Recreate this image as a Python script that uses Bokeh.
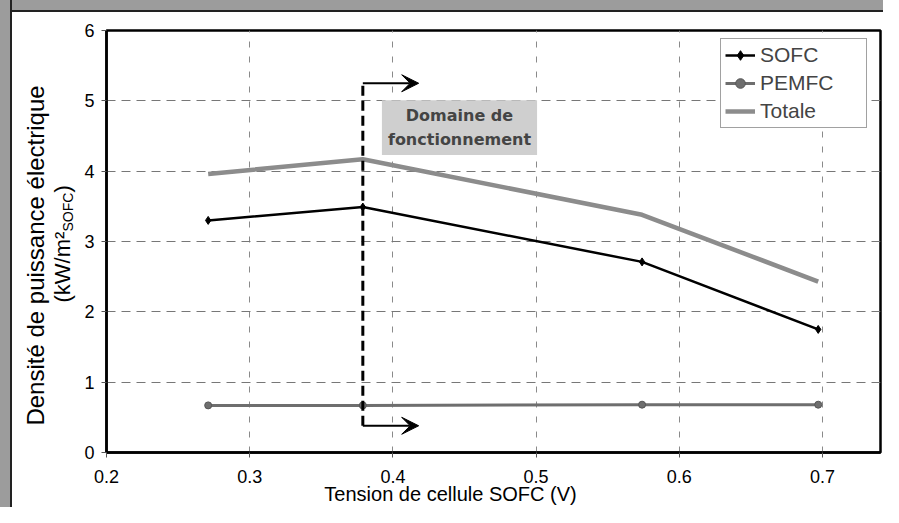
from math import pi
from bokeh.plotting import figure
from bokeh.models import (Range1d, FixedTicker, Label, Arrow, VeeHead,
                          Legend, LegendItem, InlineStyleSheet)
from bokeh.embed import file_html
from bokeh.resources import INLINE

# ---- data ----
voltage = [0.271, 0.379, 0.574, 0.697]
sofc = [3.30, 3.49, 2.71, 1.75]
pemfc = [0.67, 0.67, 0.68, 0.68]
totale = [3.96, 4.17, 3.38, 2.43]

x_ticks = [0.2, 0.3, 0.4, 0.5, 0.6, 0.7]
y_ticks = [0, 1, 2, 3, 4, 5, 6]

# operating-domain marker (annotation)
domain_x = 0.379
domain_y_low = 0.38
domain_y_high = 5.25
arrow_x_end = 0.418
domain_label_x = 0.4465
domain_label_y = 4.62

FONT = "Liberation Sans"

p = figure(width=883, height=507, output_backend="svg", toolbar_location=None,
           x_range=Range1d(0.2, 0.7405), y_range=Range1d(0, 6),
           min_border_left=106, min_border_top=30, min_border_bottom=54,
           min_border_right=3)
p.border_fill_color = "white"
p.background_fill_color = "white"
p.outline_line_color = "black"
p.outline_line_width = 2.5

# scanned-page border (left and top)
p.stylesheets = [InlineStyleSheet(css="""
:host::before { content: ""; position: absolute; left: 0; top: 0; width: 100%;
  height: 10px; background: #9c9c9c; border-bottom: 2px solid #222;
  z-index: 50; pointer-events: none; }
:host::after { content: ""; position: absolute; left: 0; top: 0; width: 10px;
  height: 100%; background: #9c9c9c; border-right: 2px solid #222;
  z-index: 51; pointer-events: none; }
""")]

# grid
p.xgrid.ticker = FixedTicker(ticks=x_ticks)
p.ygrid.ticker = FixedTicker(ticks=y_ticks)
p.xgrid.grid_line_color = "#8a8a8a"
p.xgrid.grid_line_dash = "6 9"
p.xgrid.grid_line_width = 1
p.ygrid.grid_line_color = "#777777"
p.ygrid.grid_line_dash = "9 6"
p.ygrid.grid_line_width = 1

# axes
for ax in (p.xaxis[0], p.yaxis[0]):
    ax.axis_line_width = 2.5
    ax.axis_line_color = "black"
    ax.major_tick_out = 5
    ax.major_tick_in = 0
    ax.minor_tick_line_color = None
    ax.major_label_text_font = FONT
    ax.major_label_text_font_size = "18px"
    ax.major_label_text_color = "black"
    ax.major_tick_line_color = "#555555"

p.xaxis.ticker = FixedTicker(ticks=x_ticks)
p.yaxis.ticker = FixedTicker(ticks=y_ticks)
p.xaxis.major_label_standoff = 12
p.yaxis.major_label_standoff = 7

# series
r_tot = p.line(voltage, totale, line_color="#8c8c8c", line_width=4.5)
r_sofc = p.line(voltage, sofc, line_color="black", line_width=2.5)
r_sofc_m = p.scatter(voltage, sofc, marker="diamond", size=8,
                     fill_color="black", line_color="black")
r_pem = p.line(voltage, pemfc, line_color="#6e6e6e", line_width=3)
r_pem_m = p.scatter(voltage, pemfc, marker="circle", size=7,
                    fill_color="#6e6e6e", line_color="#555555")

# operating domain: dashed vertical line + arrows
p.segment(x0=[domain_x], y0=[domain_y_low], x1=[domain_x], y1=[domain_y_high],
          line_color="black", line_width=3, line_dash="10 5")
for yy in (domain_y_high, domain_y_low):
    p.add_layout(Arrow(end=VeeHead(size=17, fill_color="black", line_color="black"),
                       x_start=domain_x, y_start=yy, x_end=arrow_x_end, y_end=yy,
                       line_color="black", line_width=2))

p.add_layout(Label(x=domain_label_x, y=domain_label_y,
                   text="Domaine de\nfonctionnement",
                   text_font="DejaVu Sans", text_font_size="16px",
                   text_font_style="bold", text_align="center",
                   text_baseline="middle", text_line_height=1.25,
                   background_fill_color="#cfcfcf", padding=6))

# axis titles as canvas-positioned labels in the side panels (not clipped)
def outer_label(side, x, y, text, size, align, angle):
    p.add_layout(Label(x=x, y=y, x_units="canvas", y_units="canvas",
                       text=text, angle=angle, text_font=FONT,
                       text_font_size=size, text_align=align,
                       text_color="black", text_baseline="middle"), side)

outer_label("left", 35, 255, "Densité de puissance électrique", "24px", "center", pi / 2)
outer_label("left", 62, 302, "(kW/m²", "22px", "left", pi / 2)
outer_label("left", 67, 231, "SOFC", "14px", "left", pi / 2)
outer_label("above", 62, 192, ")", "22px", "left", pi / 2)
outer_label("below", 450, 493, "Tension de cellule SOFC (V)", "20px", "center", 0)

legend = Legend(items=[
    LegendItem(label="SOFC", renderers=[r_sofc, r_sofc_m]),
    LegendItem(label="PEMFC", renderers=[r_pem, r_pem_m]),
    LegendItem(label="Totale", renderers=[r_tot]),
], location=(614, 324))
legend.margin = 0
legend.padding = 4
legend.spacing = 4
legend.glyph_width = 30
legend.glyph_height = 24
legend.label_height = 24
legend.label_width = 102
legend.label_standoff = 5
legend.label_text_font = FONT
legend.label_text_font_size = "21px"
legend.border_line_color = "#444444"
legend.border_line_width = 1
legend.background_fill_color = "white"
legend.background_fill_alpha = 1
p.add_layout(legend)

open("out.html", "w").write(file_html(p, INLINE))
